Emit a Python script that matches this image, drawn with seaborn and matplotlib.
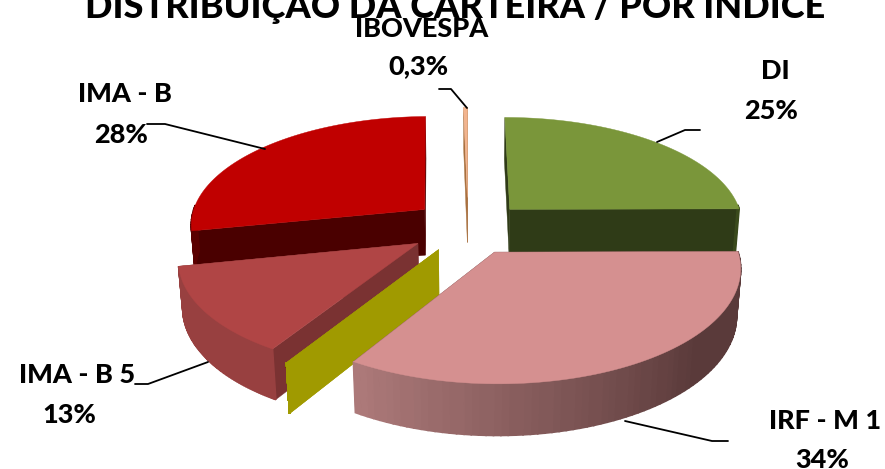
import numpy as np
import seaborn as sns
import matplotlib
matplotlib.use("Agg")
import matplotlib.pyplot as plt

sns.set_theme(style="white")
plt.rcParams['font.family'] = ['Lato', 'DejaVu Sans']

#the data, clockwise from the top. The chart has a slice with 0 that only shows its cut face
categories = ["DI", "IRF - M 1", "Outros", "IMA - B 5", "IMA - B", "IBOVESPA"]
values = [25, 34, 0, 13, 28, 0.3]
value_labels = ["25%", "34%", "", "13%", "28%", "0,3%"]
title = "DISTRIBUIÇÃO DA CARTEIRA / POR ÍNDICE"

#slice styles, same order as the data
explode = [0.265, 0.2, 0.2, 0.235, 0.225, 0.3]
radius = [0.96, 0.972, 1.0, 0.95, 0.96, 0.97]
shift_x = [0, 5, 0, 1, 2, 3]
shift_y = [0, 2, 0, -2, -5, 0]
top_colors = ["#7A963A", "#D59090", "#A09A00", "#B04545", "#C00000", "#F2B48E"]
cut_colors = ["#2F3B17", "#5A3A3A", "#A09A00", "#7A3232", "#4A0000", "#A8703F"]
wall_light = ["#3A4A1C", "#B07C7C", "#A09A00", "#984040", "#5A0000", "#A8703F"]
wall_dark = ["#3A4A1C", "#5A3A3A", "#A09A00", "#8A3838", "#5A0000", "#A8703F"]

#draw back to front so the nearer slices cover the others
draw_order = [5, 4, 0, 3, 2, 1]

#fake 3d camera
gx, gy = 465, 230
R = 245
tilt = 0.46
persp = 0.13
depth = 47


def project(X, V, z=0.0):
    s = 1.0 / (1.0 - persp * V + 0.015 * z)
    return gx + R * X * s, gy + R * tilt * V * s + depth * z * s


def wedge_xy(i, th, mid, z=0.0):
    #th and mid in radians, clockwise from the top of the pie
    X = explode[i] * np.sin(mid) + radius[i] * np.sin(th)
    V = -explode[i] * np.cos(mid) - radius[i] * np.cos(th)
    x, y = project(X, V, z)
    return x + shift_x[i], y + shift_y[i]


def apex_xy(i, mid, z=0.0):
    x, y = project(explode[i] * np.sin(mid), -explode[i] * np.cos(mid), z)
    return x + shift_x[i], y + shift_y[i]


fig = plt.figure(figsize=(8.85, 4.69), dpi=100)
ax = fig.add_axes([0, 0, 1, 1])
ax.set_xlim(0, 885)
ax.set_ylim(469, 0)
ax.axis("off")

stops = np.cumsum([0] + values) / np.sum(values) * 2 * np.pi

for i in draw_order:
    a0, a1 = stops[i], stops[i + 1]
    mid = (a0 + a1) / 2
    th = np.linspace(a0, a1, 80)

    #the two cut faces
    for a in (a0, a1):
        p0 = apex_xy(i, mid)
        p1 = wedge_xy(i, a, mid)
        p2 = wedge_xy(i, a, mid, 1)
        p3 = apex_xy(i, mid, 1)
        ax.fill([p0[0], p1[0], p2[0], p3[0]], [p0[1], p1[1], p2[1], p3[1]],
                color=cut_colors[i], lw=0.3)

    #outer wall, only the part that faces us, shaded in small steps
    shades = sns.blend_palette([wall_dark[i], wall_light[i]], 40)
    for k in range(len(th) - 1):
        t0, t1 = th[k], th[k + 1]
        if np.cos((t0 + t1) / 2) > 0.05:
            continue
        g = np.clip((np.degrees(t0) - 130) / (212.4 - 130), 0, 1)
        x0, y0 = wedge_xy(i, t0, mid)
        x1, y1 = wedge_xy(i, t1, mid)
        x2, y2 = wedge_xy(i, t1, mid, 1)
        x3, y3 = wedge_xy(i, t0, mid, 1)
        ax.fill([x0, x1, x2, x3], [y0, y1, y2, y3],
                color=shades[int(g * 39)], lw=1.2)

    #top of the slice
    xs, ys = wedge_xy(i, th, mid)
    ax0, ay0 = apex_xy(i, mid)
    ax.fill(np.r_[ax0, xs], np.r_[ay0, ys], color=top_colors[i], lw=0.3)

#leader lines
leaders = {
    "DI": ([700, 685, 657], [130, 130, 142]),
    "IRF - M 1": ([728, 712, 625], [441, 441, 421]),
    "IMA - B 5": ([135, 148, 208], [384, 384, 362]),
    "IMA - B": ([147, 165, 265], [124, 124, 149]),
    "IBOVESPA": ([439, 451, 467], [89, 89, 108]),
}
for name in leaders:
    ax.plot(leaders[name][0], leaders[name][1], color="black", lw=1.3)

#where the labels sit, name then percent
label_pos = {
    "DI": (775, 71, 771, 111),
    "IRF - M 1": (825, 421, 822, 460),
    "IMA - B 5": (77, 375, 69, 415),
    "IMA - B": (125, 94, 121, 135),
    "IBOVESPA": (422, 29, 418, 66),
}
for i, name in enumerate(categories):
    if name not in label_pos:
        continue
    x1, y1, x2, y2 = label_pos[name]
    ax.text(x1, y1, name, ha="center", va="center", fontsize=19.5, fontweight="black", color="black")
    ax.text(x2, y2, value_labels[i], ha="center", va="center", fontsize=19.5, fontweight="black", color="black")

ax.text(455, 18, title, ha="center", va="baseline", fontsize=26, fontweight="black", color="black")

fig.savefig("out.png", dpi=100)
